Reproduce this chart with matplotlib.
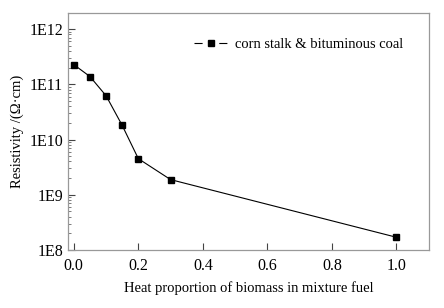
import matplotlib
matplotlib.use("Agg")
import matplotlib.pyplot as plt
from matplotlib.lines import Line2D
from matplotlib.ticker import FixedLocator, LogLocator, FuncFormatter

plt.rcParams["font.family"] = ["Liberation Serif", "DejaVu Serif"]

heat_prop = [0.0, 0.05, 0.1, 0.15, 0.2, 0.3, 1.0]
resistivity = [2.27e11, 1.38e11, 6.2e10, 1.8e10, 4.5e9, 1.88e9, 1.7e8]
x_ticks = [0.0, 0.2, 0.4, 0.6, 0.8, 1.0]
y_ticks = [1e8, 1e9, 1e10, 1e11, 1e12]
y_labels = ["1E8", "1E9", "1E10", "1E11", "1E12"]
series_name = "corn stalk & bituminous coal"

fig = plt.figure(figsize=(4.44, 3.08), dpi=100, facecolor="white")
ax = fig.add_axes([68 / 444, 1 - 250 / 308, (429 - 68) / 444, (250 - 13) / 308])

ax.plot(heat_prop, resistivity, color="black", linewidth=0.8, marker="s",
        markersize=4.5)
ax.set_yscale("log")
ax.set_xlim(-0.018, 1.101)
ax.set_ylim(1e8, 10 ** 12.29)

ax.xaxis.set_major_locator(FixedLocator(x_ticks))
ax.set_xticklabels([f"{v:.1f}" for v in x_ticks])
ax.yaxis.set_major_locator(FixedLocator(y_ticks))
ax.set_yticklabels(y_labels)
ax.yaxis.set_minor_locator(LogLocator(base=10, subs=range(2, 10)))
ax.yaxis.set_minor_formatter(FuncFormatter(lambda v, p: ""))

ax.tick_params(axis="both", which="major", direction="in", length=5, width=0.8,
               colors="#444", labelcolor="black", labelsize=11.5, top=False, right=False)
ax.tick_params(axis="x", which="major", pad=6)
ax.tick_params(axis="y", which="minor", direction="in", length=2.5, width=0.6,
               colors="#666", right=False)
for s in ax.spines.values():
    s.set_color("#999")
    s.set_linewidth(0.9)

ax.set_xlabel("Heat proportion of biomass in mixture fuel", fontsize=10.5, labelpad=5)
ax.set_ylabel("Resistivity /(Ω·cm)", fontsize=10.5, labelpad=4)

# legend handle: dash - marker - dash with gaps
proxy = Line2D([], [], color="black", linewidth=0.8, marker="s", markersize=4,
               dashes=(7.3, 15))
ax.legend([proxy], [series_name], loc="upper right", frameon=False, fontsize=10.5,
          handlelength=2.3, handletextpad=0.5, bbox_to_anchor=(0.965, 0.95))

fig.savefig("out.png", dpi=100, facecolor="white")
